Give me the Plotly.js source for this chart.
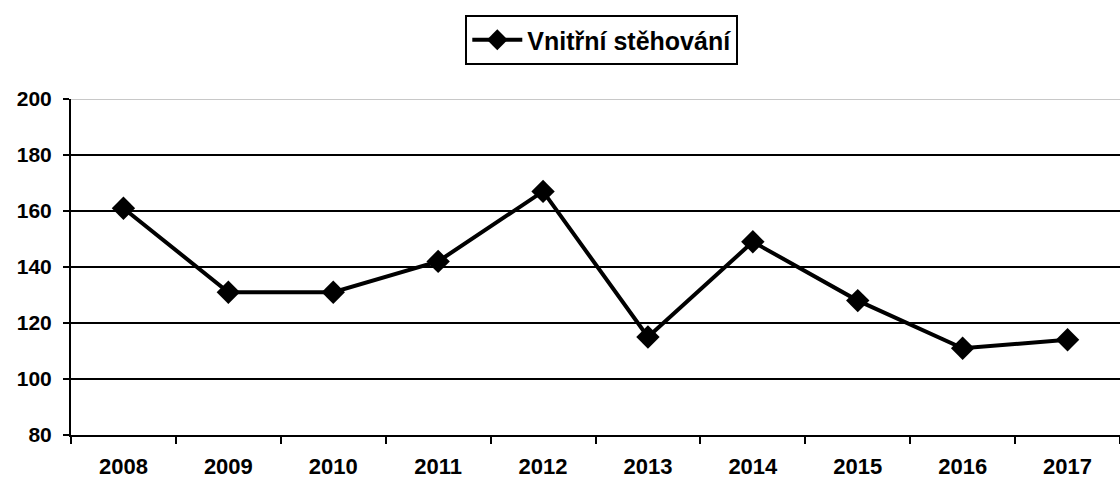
<!DOCTYPE html>
<html>
<head>
<meta charset="utf-8">
<script src="https://cdn.plot.ly/plotly-3.0.1.min.js"></script>
<style>html,body{margin:0;padding:0;background:#fff;}#chart{width:1120px;height:484px;}</style>
</head>
<body>
<div id="chart"></div>
<script>
const years = ["2008","2009","2010","2011","2012","2013","2014","2015","2016","2017"];
const values = [161, 131, 131, 142, 167, 115, 149, 128, 111, 114];
const seriesName = "Vnitřní stěhování";
const yTicks = [80, 100, 120, 140, 160, 180, 200];

const fam = "Liberation Sans, Arial, sans-serif";
const xFont = {family: fam, size: 22, color: "#000", weight: "bold"};
const yFont = {family: fam, size: 21, color: "#000", weight: "bold"};
const legFont = {family: fam, size: 25, color: "#000", weight: "bold"};

const trace = {
  x: years, y: values, type: "scatter", mode: "lines+markers", name: seriesName,
  line: {color: "#000", width: 4},
  marker: {symbol: "diamond", size: 18, color: "#000"},
  showlegend: true
};

const layout = {
  width: 1120, height: 484,
  margin: {l: 71, r: 0, t: 99, b: 49, pad: 0},
  paper_bgcolor: "#fff", plot_bgcolor: "#fff",
  font: yFont,
  showlegend: true,
  legend: {
    orientation: "h", xref: "paper", x: 0.506, xanchor: "center",
    yref: "container", y: 0.969, yanchor: "top",
    bordercolor: "#000", borderwidth: 2, bgcolor: "#fff",
    itemwidth: 50,
    font: legFont
  },
  xaxis: {
    type: "category", tickson: "boundaries", range: [-0.5, years.length - 0.5],
    ticks: "outside", ticklen: 7, tickwidth: 2, tickcolor: "#000",
    showline: true, linecolor: "#000", linewidth: 2,
    showgrid: false, zeroline: false,
    tickfont: xFont, ticklabelstandoff: 11,
    fixedrange: true
  },
  yaxis: {
    range: [80, 200], tickvals: yTicks, ticktext: yTicks.map(String),
    ticks: "outside", ticklen: 6, tickwidth: 2, tickcolor: "#000",
    showline: true, linecolor: "#000", linewidth: 2,
    showgrid: true, gridcolor: "#000", gridwidth: 2, zeroline: false,
    tickfont: yFont, ticklabelstandoff: 7,
    fixedrange: true
  },
  shapes: [{type: "line", xref: "paper", x0: 0, x1: 1, yref: "y", y0: yTicks[yTicks.length-1], y1: yTicks[yTicks.length-1],
    line: {color: "#c8c8c8", width: 2}, layer: "above"}]
};

Plotly.newPlot("chart", [trace], layout, {displayModeBar: false, staticPlot: true});
</script>
</body>
</html>
